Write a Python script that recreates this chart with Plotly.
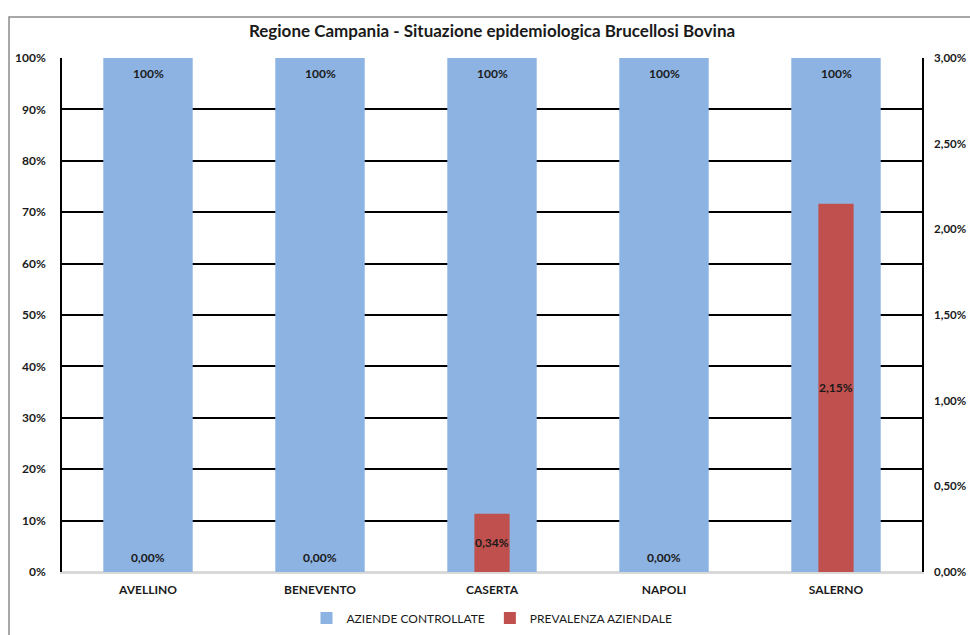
import plotly.graph_objects as go

# Province della Campania e valori dell'indagine
province = ["AVELLINO", "BENEVENTO", "CASERTA", "NAPOLI", "SALERNO"]
aziende_controllate = [1.0, 1.0, 1.0, 1.0, 1.0]
prevalenza_aziendale = [0.0, 0.0, 0.0034, 0.0, 0.0215]

left_ticks = [i / 10 for i in range(11)]
right_ticks = [i * 0.005 for i in range(7)]

FONT = "Lato"
TXT = "#1a1a1a"
BLUE = "#8DB3E2"
RED = "#C0504D"
LABEL_FONT = dict(family=FONT, size=12, color=TXT, weight="bold")

fig = go.Figure()

fig.add_trace(go.Bar(
    x=province, y=aziende_controllate, name="AZIENDE CONTROLLATE",
    marker=dict(color=BLUE, line=dict(width=0)), width=0.52,
    yaxis="y",
))

fig.add_trace(go.Bar(
    x=province, y=prevalenza_aziendale, name="PREVALENZA AZIENDALE",
    marker=dict(color=RED, line=dict(width=0)), width=0.205,
    yaxis="y2",
))

# Etichette delle aziende controllate: in cima alla barra, all'interno
for p, v in zip(province, aziende_controllate):
    fig.add_annotation(
        x=p, y=v, xref="x", yref="y",
        text=f"{v * 100:.0f}%", showarrow=False, yshift=-15,
        font=LABEL_FONT,
    )

# Etichette della prevalenza: al centro della barra, sopra la base se nulla
for p, v in zip(province, prevalenza_aziendale):
    fig.add_annotation(
        x=p, y=v / 2, xref="x", yref="y2",
        text=f"{v * 100:.2f}%".replace(".", ","),
        showarrow=False, yshift=15 if v == 0 else 0,
        font=LABEL_FONT,
    )

# Cornice esterna del grafico
fig.add_shape(type="rect", xref="paper", yref="paper",
              x0=-0.0616, x1=1.2, y0=-0.2, y1=1.0798,
              line=dict(color="#8a8a8a", width=1.5), layer="below")

fig.update_layout(
    width=970, height=635,
    margin=dict(l=62, r=48, t=58, b=63, autoexpand=False),
    paper_bgcolor="white", plot_bgcolor="white",
    separators=",.",
    barmode="overlay",
    font=dict(family=FONT, color=TXT),
    title=dict(
        text="Regione Campania - Situazione epidemiologica Brucellosi Bovina",
        x=0.5, xanchor="center", xref="paper", y=0.951, yanchor="middle",
        font=dict(family=FONT, size=17, color=TXT, weight="bold"),
    ),
    xaxis=dict(
        showgrid=False, showline=True, linecolor="#d9d9d9", linewidth=1.5,
        ticks="", automargin=False, ticklabelstandoff=6,
        tickfont=dict(family=FONT, size=12, color=TXT, weight="bold"),
        range=[-0.5, 4.5],
    ),
    yaxis=dict(
        range=[0, 1], tickvals=left_ticks, tickformat=".0%",
        showgrid=True, gridcolor="#000000", gridwidth=1.6,
        zeroline=True, zerolinecolor="#d9d9d9", zerolinewidth=1.5,
        showline=True, linecolor="#000000", linewidth=1.6,
        ticks="", ticklabelstandoff=12, automargin=False,
        tickfont=dict(family=FONT, size=12, color=TXT, weight="bold"),
    ),
    yaxis2=dict(
        overlaying="y", side="right", range=[0, 0.03],
        tickvals=right_ticks, tickformat=".2%",
        showgrid=False, zeroline=False,
        showline=True, linecolor="#000000", linewidth=1.6,
        ticks="", ticklabelstandoff=8, automargin=False,
        tickfont=dict(family=FONT, size=11.5, color=TXT, weight="bold"),
    ),
    legend=dict(
        orientation="h", x=0.5, xanchor="center", y=-0.0895, yanchor="middle",
        font=dict(family=FONT, size=12, color=TXT),
        itemwidth=30, traceorder="normal",
    ),
    showlegend=True,
)

fig.write_html("out.html")
